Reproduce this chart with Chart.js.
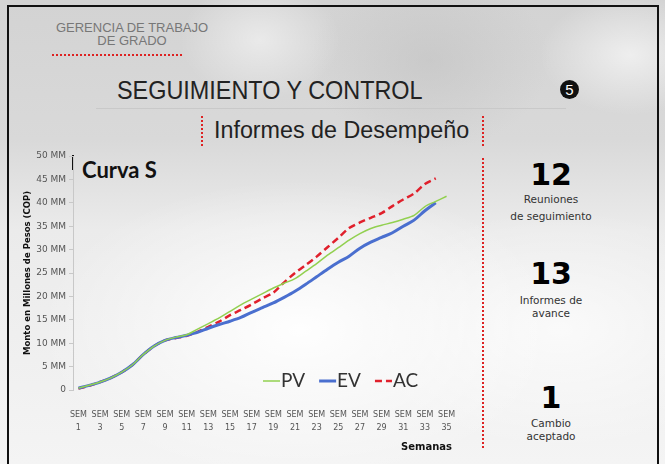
<!DOCTYPE html>
<html>
<head>
<meta charset="utf-8">
<script src="https://cdn.jsdelivr.net/npm/chart.js@4"></script>
<style>
  html, body { margin: 0; padding: 0; }
  body {
    width: 665px; height: 464px; position: relative; overflow: hidden;
    background:
      radial-gradient(ellipse 260px 150px at 300px 330px, rgba(255,255,255,0.95), rgba(255,255,255,0) 100%),
      radial-gradient(ellipse 200px 120px at 560px 330px, rgba(255,255,255,0.7), rgba(255,255,255,0) 100%),
      radial-gradient(ellipse 90px 60px at 630px 55px, rgba(255,255,255,0.6), rgba(255,255,255,0) 100%),
      radial-gradient(ellipse 80px 60px at 260px 40px, rgba(255,255,255,0.5), rgba(255,255,255,0) 100%),
      radial-gradient(ellipse 120px 90px at 430px 60px, rgba(190,190,190,0.5), rgba(190,190,190,0) 100%),
      linear-gradient(180deg, #d3d3d3 0px, #d9d9d9 140px, #ebebeb 230px, #f4f4f4 464px);
    font-family: "Liberation Sans", Arial, sans-serif;
  }
  .frame { position: absolute; left: 7px; top: 5px; width: 648px; height: 470px;
    border-left: 2px solid #111; border-top: 2px solid #111; border-right: 2px solid #111; }
  .abs { position: absolute; }
  .narrow { transform-origin: left top; transform: scaleX(0.9); white-space: nowrap; }
  canvas { position: absolute; left: 0; top: 0; }
</style>
</head>
<body>
<div class="frame"></div>

<div class="abs" style="left:50px;top:21px;width:164px;text-align:center;color:#777;font-size:13px;line-height:13px;">GERENCIA DE TRABAJO<br>DE GRADO</div>
<div class="abs" style="left:52px;top:54px;width:130px;border-top:2px dotted #d22;"></div>

<div class="abs narrow" style="left:117px;top:75px;color:#222;font-size:26px;">SEGUIMIENTO Y CONTROL</div>
<div class="abs" style="left:96px;top:108px;width:470px;border-top:1px solid #c9c9c9;"></div>
<div class="abs" style="left:560px;top:80px;width:19px;height:19px;border-radius:50%;background:#111;color:#fff;font-size:15px;line-height:19px;text-align:center;">5</div>

<div class="abs" style="left:201px;top:116px;height:30px;border-left:2px dotted #d22;"></div>
<div class="abs" style="left:214px;top:117px;color:#222;font-size:23.3px;white-space:nowrap;">Informes de Desempeño</div>
<div class="abs" style="left:482px;top:116px;height:30px;border-left:2px dotted #d22;"></div>

<div class="abs" style="left:482px;top:158px;height:290px;border-left:2px dotted #d22;"></div>

<div class="abs" style="left:72px;top:155px;width:2px;height:15px;background:#111;"></div>
<div class="abs" style="left:82px;top:156px;color:#111;font-size:22px;font-weight:bold;font-family:Lato,'DejaVu Sans',sans-serif;">Curva S</div>

<div class="abs" style="left:495px;top:159px;width:112px;text-align:center;color:#333;font-family:'DejaVu Sans',sans-serif;">
  <div style="font-size:30px;font-weight:bold;line-height:32px;color:#000;">12</div>
  <div style="font-size:10.5px;line-height:17px;">Reuniones<br>de seguimiento</div>
</div>
<div class="abs" style="left:495px;top:258px;width:112px;text-align:center;color:#333;font-family:'DejaVu Sans',sans-serif;">
  <div style="font-size:30px;font-weight:bold;line-height:32px;color:#000;">13</div>
  <div style="font-size:10.5px;line-height:13px;margin-top:4px;">Informes de<br>avance</div>
</div>
<div class="abs" style="left:495px;top:382px;width:112px;text-align:center;color:#333;font-family:'DejaVu Sans',sans-serif;">
  <div style="font-size:30px;font-weight:bold;line-height:32px;color:#000;">1</div>
  <div style="font-size:10.5px;line-height:13px;margin-top:3px;">Cambio<br>aceptado</div>
</div>

<canvas id="curvaS" width="665" height="464"></canvas>

<script>
// semanas del proyecto
const weeks = [1, 2, 3, 4, 5, 6, 7, 8, 9, 10, 11, 12, 13, 14, 15, 16, 17, 18, 19, 20,
               21, 22, 23, 24, 25, 26, 27, 28, 29, 30, 31, 32, 33, 34, 35];

// valores en millones de pesos (MM)
const pvValues = [0.4, 1.0, 1.7, 2.6, 3.8, 5.4, 7.6, 9.4, 10.6, 11.3, 11.8, 13.0, 14.2, 15.4, 16.8,
                  18.2, 19.4, 20.6, 21.8, 22.8, 23.8, 25.4, 27.0, 28.8, 30.4, 32.0, 33.4, 34.5, 35.2,
                  35.8, 36.5, 37.3, 39.2, 40.3, 41.4];
const evValues = [0.4, 1.0, 1.7, 2.6, 3.8, 5.4, 7.6, 9.4, 10.6, 11.2, 11.7, 12.3, 13.2, 14.0, 14.7,
                  15.5, 16.6, 17.6, 18.6, 19.8, 21.1, 22.6, 24.2, 25.8, 27.3, 28.6, 30.3, 31.6, 32.6,
                  33.6, 35.0, 36.3, 38.3, 40.0];
const acValues = [0.3, 0.9, 1.7, 2.6, 3.8, 5.4, 7.6, 9.4, 10.6, 11.1, 11.6, 12.4, 13.5, 14.6, 16.0,
                  17.1, 18.3, 19.6, 20.8, 23.0, 25.0, 26.7, 28.5, 30.5, 32.5, 34.6, 35.8, 36.8, 37.8,
                  39.3, 40.7, 42.0, 44.0, 45.2];

const yTicksMax = 50;
const yTicksStep = 5;

// leyenda dibujada dentro del área del gráfico
const legendaInterna = {
    id: 'legendaInterna',
    afterDraw(chart) {
        const ctx = chart.ctx;
        let x = 263;
        const y = 381;
        ctx.save();
        ctx.font = '19px Lato, "DejaVu Sans", sans-serif';
        ctx.textBaseline = 'middle';
        chart.data.datasets.forEach(ds => {
            ctx.strokeStyle = ds.borderColor;
            ctx.lineWidth = ds.borderWidth;
            ctx.setLineDash(ds.borderDash || []);
            ctx.beginPath();
            ctx.moveTo(x, y);
            ctx.lineTo(x + 17, y);
            ctx.stroke();
            ctx.setLineDash([]);
            ctx.fillStyle = '#333';
            ctx.fillText(ds.label, x + 18, y);
            x += 18 + ctx.measureText(ds.label).width + 14;
        });
        ctx.restore();
    }
};

const ctx = document.getElementById('curvaS').getContext('2d');
new Chart(ctx, {
    type: 'line',
    data: {
        labels: weeks.map(w => ['SEM', String(w)]),
        datasets: [
            { label: 'PV', data: pvValues, borderColor: '#92d050', borderWidth: 1.5, tension: 0.3, pointRadius: 0 },
            { label: 'EV', data: evValues, borderColor: '#4a6fcf', borderWidth: 3, tension: 0.3, pointRadius: 0 },
            { label: 'AC', data: acValues, borderColor: '#e0202c', borderWidth: 2.5, borderDash: [7, 4], tension: 0.3, pointRadius: 0 }
        ]
    },
    options: {
        responsive: false,
        animation: false,
        layout: { padding: { left: 20, right: 213, top: 156, bottom: 10 } },
        plugins: { legend: { display: false }, tooltip: { enabled: false } },
        scales: {
            x: {
                offset: true,
                grid: { display: false, drawTicks: false },
                border: { display: false },
                ticks: {
                    autoSkip: false, maxRotation: 0, padding: 19,
                    color: '#555', font: { size: 8, family: '"DejaVu Sans", sans-serif', lineHeight: 1.6 },
                    callback: function (v, i) { return i % 2 === 0 ? this.getLabelForValue(v) : null; }
                },
                title: { display: true, text: 'Semanas', align: 'end', color: '#111',
                         font: { size: 10, weight: 'bold', family: '"DejaVu Sans", sans-serif' }, padding: { top: 0, bottom: 1 } },
                afterFit: s => { s.height = 64; }
            },
            y: {
                min: 0, max: yTicksMax,
                grid: { drawOnChartArea: false, tickLength: 4, color: '#c8c8c8' },
                border: { color: '#c8c8c8' },
                ticks: {
                    stepSize: yTicksStep, padding: 3, color: '#555',
                    font: { size: 9, family: '"DejaVu Sans", sans-serif' },
                    callback: v => v === 0 ? '0' : v + ' MM'
                },
                title: { display: true, text: 'Monto en Millones de Pesos (COP)', color: '#111',
                         font: { size: 8.5, weight: 'bold', family: '"DejaVu Sans", sans-serif' }, padding: { top: 3, bottom: 0 } },
                afterFit: s => { s.width = 53; }
            }
        }
    },
    plugins: [legendaInterna]
});
</script>
</body>
</html>
